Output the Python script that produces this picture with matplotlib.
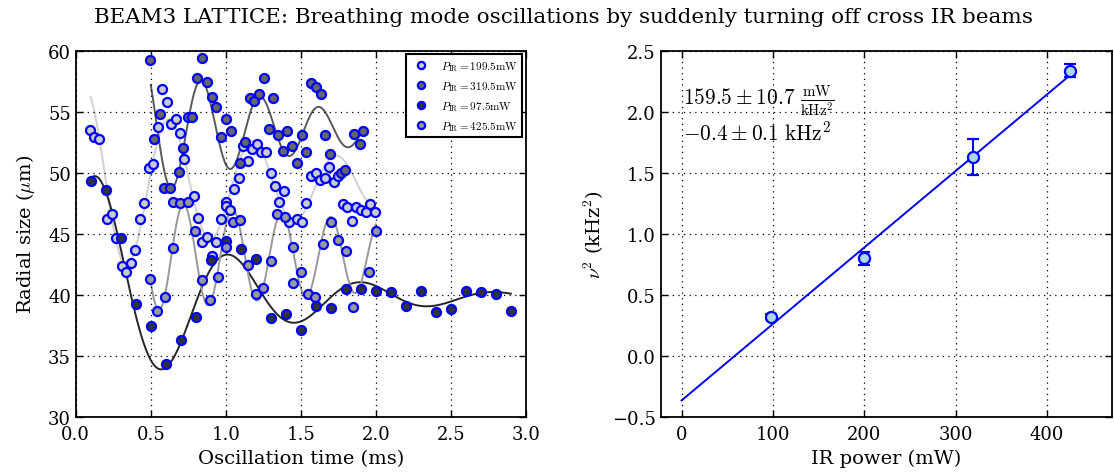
import matplotlib.pyplot as plt
import numpy as np

plt.rcParams['font.family'] = ['DejaVu Serif']
plt.rcParams['mathtext.fontset'] = 'cm'

# --- 左: 振動データ (時間 ms, 半径 um) ---
# P_IR = 199.5 mW
t_199 = [0.093, 0.122, 0.156, 0.211, 0.244, 0.271, 0.307, 0.338, 0.367, 0.396,
         0.425, 0.456, 0.486, 0.516, 0.545, 0.575, 0.605, 0.638, 0.669, 0.696,
         0.722, 0.787, 0.818, 0.844, 0.876, 0.907, 0.938, 0.968, 1.0, 1.0,
         1.027, 1.058, 1.088, 1.118, 1.149, 1.176, 1.207, 1.236, 1.269, 1.3,
         1.331, 1.358, 1.389, 1.42, 1.476, 1.509, 1.538, 1.567, 1.6, 1.629,
         1.662, 1.69, 1.72, 1.75, 1.78, 1.811, 1.842, 1.871, 1.9, 1.932,
         1.963, 1.994]
r_199 = [53.5, 52.95, 52.8, 46.2, 46.6, 44.7, 42.4, 41.9, 42.6, 43.7,
         46.2, 47.5, 50.4, 50.7, 53.8, 56.9, 55.8, 54.0, 54.4, 53.3,
         51.15, 48.1, 46.3, 44.3, 44.75, 43.2, 44.3, 46.2, 47.6, 47.3,
         47.0, 48.7, 49.56, 52.2, 50.95, 52.0, 52.4, 51.7, 51.7, 50.0,
         48.9, 47.65, 48.5, 46.0, 46.2, 46.0, 47.5, 49.78, 50.0, 49.4,
         49.55, 50.5, 49.25, 49.73, 47.45, 47.24, 46.05, 47.24, 46.97, 46.78,
         47.46, 46.78]

# P_IR = 319.5 mW
t_319 = [0.498, 0.524, 0.56, 0.589, 0.627, 0.687, 0.716, 0.749, 0.778, 0.809,
         0.842, 0.876, 0.907, 0.938, 0.969, 1.0, 1.033, 1.093, 1.127, 1.16,
         1.191, 1.222, 1.253, 1.287, 1.318, 1.349, 1.382, 1.411, 1.444, 1.473,
         1.509, 1.538, 1.567, 1.6, 1.633, 1.664, 1.695, 1.767, 1.793, 1.855,
         1.893, 1.918]
r_319 = [59.3, 52.75, 54.8, 48.8, 48.8, 50.08, 52.08, 54.6, 54.6, 57.8,
         59.43, 57.43, 56.2, 55.38, 52.95, 54.4, 53.4, 50.8, 52.5, 56.12,
         55.9, 56.5, 57.81, 53.6, 56.12, 53.09, 51.83, 53.42, 52.24, 50.85,
         53.1, 51.68, 57.38, 57.08, 56.48, 53.08, 51.55, 50.03, 50.24, 53.2,
         52.38, 53.42]

# P_IR = 97.5 mW
t_97 = [0.1, 0.2, 0.3, 0.4, 0.5, 0.6, 0.7, 0.8, 0.9, 1.0,
        1.1, 1.2, 1.3, 1.4, 1.5, 1.6, 1.7, 1.8, 1.9, 2.0,
        2.1, 2.2, 2.3, 2.4, 2.5, 2.6, 2.7, 2.8, 2.9]
r_97 = [49.3, 48.6, 44.67, 39.25, 37.45, 34.35, 36.3, 38.15, 42.85, 44.4,
        43.74, 42.95, 38.12, 38.4, 37.1, 39.05, 38.93, 40.47, 40.47, 40.3,
        40.22, 39.1, 40.3, 38.58, 38.85, 40.33, 40.27, 40.05, 38.7]

# P_IR = 425.5 mW
t_425 = [0.498, 0.544, 0.596, 0.649, 0.649, 0.696, 0.749, 0.796, 0.844, 0.898,
         0.949, 1.0, 1.049, 1.098, 1.149, 1.2, 1.249, 1.3, 1.344, 1.398,
         1.449, 1.449, 1.502, 1.549, 1.597, 1.651, 1.7, 1.751, 1.802, 1.851,
         1.953, 2.004]
r_425 = [41.34, 38.7, 39.84, 43.85, 47.6, 47.5, 47.6, 45.25, 41.2, 39.6,
         41.46, 43.93, 45.97, 46.16, 42.44, 40.1, 40.6, 42.82, 46.67, 46.4,
         43.9, 40.95, 41.86, 40.1, 39.84, 44.2, 46.0, 44.52, 43.6, 39.04,
         41.86, 45.2]

# 減衰振動フィット (offset, amp, tau, freq kHz, phase, t_start, t_end)
fit_199 = (49.0, 8.4, 1.4, 1.79, -0.731, 0.1, 2.0)
fit_319 = (53.6, 9.2, 1.0, 2.55, -0.861, 0.5, 1.92)
fit_97 = (39.8, 11.7, 0.85, 1.13, -1.065, 0.1, 2.9)
fit_425 = (43.2, 5.2, 3.5, 3.06, -1.254, 0.5, 2.0)

# --- 右: nu^2 vs IR power ---
power = [97.5, 199.5, 319.5, 425.5]
nu2 = [0.32, 0.80, 1.63, 2.34]
nu2_err = [0.02, 0.055, 0.145, 0.05]
slope_inv = 159.5   # mW / kHz^2
intercept = -0.365  # kHz^2


def damped(t, c, a, tau, f, phi):
    """ 減衰振動モデル """
    return c + a * np.exp(-t / tau) * np.cos(2 * np.pi * f * t + phi)


fig = plt.figure(figsize=(11.14, 4.77), dpi=100)
fig.text(0.506, 0.963,
         'BEAM3 LATTICE: Breathing mode oscillations by suddenly turning off cross IR beams',
         ha='center', va='center', fontsize=15.4)

ax1 = fig.add_axes([0.068, 0.124, 0.404, 0.767])
series = [
    (t_199, r_199, fit_199, '0.8', '0.82', r'$P_{\rm IR}=199.5{\rm mW}$'),
    (t_319, r_319, fit_319, '0.4', '0.35', r'$P_{\rm IR}=319.5{\rm mW}$'),
    (t_97, r_97, fit_97, '0.2', '0.15', r'$P_{\rm IR}=97.5{\rm mW}$'),
    (t_425, r_425, fit_425, '0.6', '0.6', r'$P_{\rm IR}=425.5{\rm mW}$'),
]
for t, r, fit, fill, lc, lab in series:
    c, a, tau, f, phi, t0, t1 = fit
    tt = np.linspace(t0, t1, 400)
    ax1.plot(tt, damped(tt, c, a, tau, f, phi), '-', color=lc, lw=1.4, zorder=1)
for t, r, fit, fill, lc, lab in series:
    ax1.plot(t, r, 'o', ls='none', mfc=fill, mec='blue', mew=1.6, ms=6.5,
             label=lab, zorder=3)

ax1.set_xlim(0, 3)
ax1.set_ylim(30, 60)
ax1.set_xticks(np.arange(0, 3.01, 0.5))
ax1.set_yticks(np.arange(30, 61, 5))
ax1.set_xlabel('Oscillation time (ms)', fontsize=14)
ax1.set_ylabel(r'Radial size ($\mu$m)', fontsize=14, labelpad=8)
leg = ax1.legend(loc='upper right', numpoints=1, fontsize=8, fancybox=False,
                 borderaxespad=0.3, markerscale=0.8, labelspacing=0.55,
                 handletextpad=0.8)
leg.get_frame().set_edgecolor('black')
leg.get_frame().set_linewidth(1.5)
leg.get_frame().set_alpha(1)

ax2 = fig.add_axes([0.593, 0.124, 0.405, 0.767])
xf = np.array([0, max(power)])
ax2.plot(xf, xf / slope_inv + intercept, '-', color='blue', lw=1.4, zorder=1)
ax2.errorbar(power, nu2, yerr=nu2_err, fmt='o', mfc='lightblue', mec='blue',
             mew=1.6, ms=8, ecolor='blue', elinewidth=1.5, capsize=4,
             capthick=1.5, zorder=3)
ax2.set_xlim(-23, 471)
ax2.set_ylim(-0.5, 2.5)
ax2.set_xticks([0, 100, 200, 300, 400])
ax2.set_yticks(np.arange(-0.5, 2.51, 0.5))
ax2.set_xlabel('IR power (mW)', fontsize=14)
ax2.set_ylabel(r'$\nu^2$ (kHz$^2$)', fontsize=14)
ax2.text(0.05, 0.866, r'$159.5\pm10.7\ \frac{\mathrm{mW}}{\mathrm{kHz}^2}$',
         transform=ax2.transAxes, fontsize=15.4, va='center')
ax2.text(0.05, 0.779, r'$-0.4\pm0.1\ \mathrm{kHz}^2$',
         transform=ax2.transAxes, fontsize=15.4, va='center')

for ax in (ax1, ax2):
    ax.grid(True, color='k', linestyle=(0, (1, 3.5)), linewidth=0.9)
    ax.tick_params(direction='in', top=True, right=True, labelsize=13,
                   length=5, width=1)
    ax.tick_params(axis='x', pad=6)
    for s in ax.spines.values():
        s.set_linewidth(1.3)

fig.savefig('out.png', dpi=100)
